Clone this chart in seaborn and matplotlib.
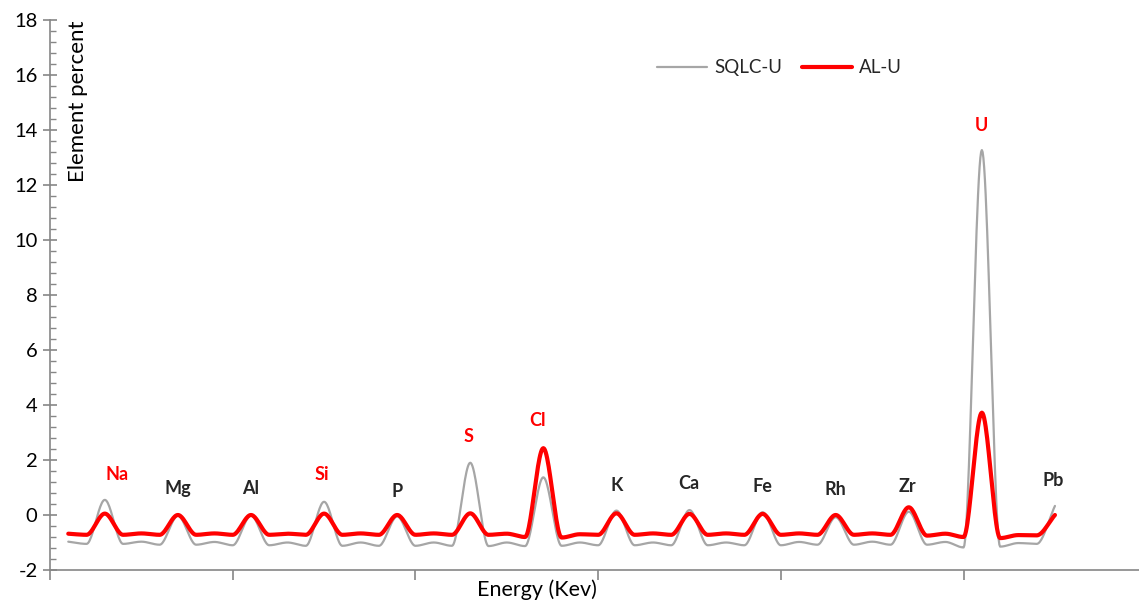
import numpy as np
import pandas as pd
import matplotlib
matplotlib.use("Agg")
import matplotlib.pyplot as plt
from matplotlib.lines import Line2D
import seaborn as sns

# ---- data ----
energy_index = list(range(1, 56))

sqlc_u = [-0.97, -1.05,
          0.55, -1.05, -0.97, -1.08,
          -0.03, -1.08, -0.98, -1.10,
          -0.02, -1.10, -1.00, -1.12,
          0.48, -1.12, -1.00, -1.12,
          -0.05, -1.12, -1.00, -1.12,
          1.90, -1.13, -1.00, -1.13,
          1.37, -1.12, -1.00, -1.10,
          0.16, -1.10, -1.00, -1.10,
          0.18, -1.10, -1.00, -1.10,
          0.10, -1.10, -0.98, -1.08,
          -0.08, -1.08, -0.97, -1.08,
          0.12, -1.08, -0.98, -1.18,
          13.27, -1.15, -1.02, -1.05,
          0.33]

al_u = [-0.68, -0.72,
        0.05, -0.72, -0.67, -0.72,
        0.00, -0.72, -0.67, -0.72,
        0.00, -0.72, -0.68, -0.72,
        0.05, -0.72, -0.67, -0.72,
        0.00, -0.72, -0.67, -0.72,
        0.06, -0.72, -0.68, -0.80,
        2.43, -0.82, -0.70, -0.72,
        0.06, -0.72, -0.67, -0.72,
        0.04, -0.72, -0.67, -0.72,
        0.04, -0.72, -0.67, -0.72,
        0.00, -0.72, -0.67, -0.72,
        0.28, -0.75, -0.68, -0.80,
        3.72, -0.84, -0.73, -0.74,
        0.00]

element_labels = ["Na", "Mg", "Al", "Si", "P", "S", "Cl", "K", "Ca", "Fe", "Rh", "Zr", "U", "Pb"]
label_x = [3.67, 7.0, 11.0, 14.9, 19.0, 22.9, 26.7, 31.0, 34.97, 39.0, 42.96, 46.95, 51.0, 54.9]
label_y = [1.49, 0.95, 0.95, 1.49, 0.87, 2.84, 3.45, 1.09, 1.13, 1.02, 0.91, 1.02, 14.15, 1.27]
label_red = [True, False, False, True, False, True, True, False, False, False, False, False, True, False]

y_ticks = [-2, 0, 2, 4, 6, 8, 10, 12, 14, 16, 18]
x_ticks = [0, 10, 20, 30, 40, 50]


def smooth(xs, ys, n=24):
    """Smoothed line for rendering (monotone cubic Hermite, no overshoot)."""
    xs = np.asarray(xs, float)
    ys = np.asarray(ys, float)
    h = np.diff(xs)
    d = np.diff(ys) / h
    m = np.zeros_like(ys)
    for k in range(1, len(ys) - 1):
        if d[k - 1] * d[k] > 0:
            m[k] = 2.0 / (1.0 / d[k - 1] + 1.0 / d[k])
    m[0] = d[0]
    m[-1] = d[-1]
    outx, outy = [], []
    t = np.linspace(0, 1, n, endpoint=False)
    for k in range(len(xs) - 1):
        h00 = 2 * t ** 3 - 3 * t ** 2 + 1
        h10 = t ** 3 - 2 * t ** 2 + t
        h01 = -2 * t ** 3 + 3 * t ** 2
        h11 = t ** 3 - t ** 2
        outx.append(xs[k] + t * h[k])
        outy.append(h00 * ys[k] + h10 * h[k] * m[k] + h01 * ys[k + 1] + h11 * h[k] * m[k + 1])
    outx.append([xs[-1]])
    outy.append([ys[-1]])
    return np.concatenate(outx), np.concatenate(outy)


sx, sy = smooth(energy_index, sqlc_u)
ax_, ay_ = smooth(energy_index, al_u)
df_sqlc = pd.DataFrame({"x": sx, "y": sy})
df_al = pd.DataFrame({"x": ax_, "y": ay_})

sns.set_theme(style="white")
plt.rcParams["font.family"] = ["Lato", "DejaVu Sans"]

fig = plt.figure(figsize=(11.39, 6.01), dpi=100)
ax = fig.add_axes([50 / 1139, (601 - 570) / 601, 1 - 50 / 1139, 550 / 601])

grey, red = "#A6A6A6", "#FF0000"
sns.lineplot(data=df_sqlc, x="x", y="y", sort=False, estimator=None,
             color=grey, lw=1.6, ax=ax, legend=False)
sns.lineplot(data=df_al, x="x", y="y", sort=False, estimator=None,
             color=red, lw=3.0, ax=ax, legend=False)

ax.set_xlim(0, 59.6)
ax.set_ylim(-2, 18)
ax.set_yticks(y_ticks)
ax.set_yticklabels([str(v) for v in y_ticks])
ax.set_yticks(np.arange(-2, 18.01, 0.4), minor=True)
ax.set_xticks(x_ticks)
ax.set_xticklabels([])
ax.set_xlabel("")
ax.set_ylabel("")

for s in ["top", "right"]:
    ax.spines[s].set_visible(False)
for s in ["left", "bottom"]:
    ax.spines[s].set_color("#868686")
    ax.spines[s].set_linewidth(1.2)

ax.tick_params(axis="y", which="major", direction="inout", length=10, width=1.2,
               color="#868686", labelsize=14.5, labelcolor="#000000", pad=4, left=True)
ax.tick_params(axis="y", which="minor", direction="in", length=4, width=1.0,
               color="#868686", left=True)
ax.tick_params(axis="x", which="major", direction="out", length=7, width=1.2,
               color="#868686", bottom=True)

for lab, lx, ly, isred in zip(element_labels, label_x, label_y, label_red):
    ax.text(lx, ly, lab, ha="center", va="center", fontsize=13, fontweight="bold",
            color=red if isred else "#262626")

ax.text(0.026, 1.0, "Element percent", rotation=90, transform=ax.transAxes,
        ha="center", va="top", fontsize=16, color="#000000")
fig.text(537 / 1139, 1 - 590 / 601, "Energy (Kev)", ha="center", va="center",
         fontsize=15.5, color="#000000")

handles = [Line2D([], [], color=grey, lw=1.6),
           Line2D([], [], color=red, lw=3.0)]
ax.legend(handles, ["SQLC-U", "AL-U"], ncol=2, frameon=False, loc="center",
          bbox_to_anchor=(0.670, 0.913), fontsize=13.5, handlelength=2.67,
          columnspacing=1.07, handletextpad=0.37)

fig.savefig("out.png", dpi=100)
